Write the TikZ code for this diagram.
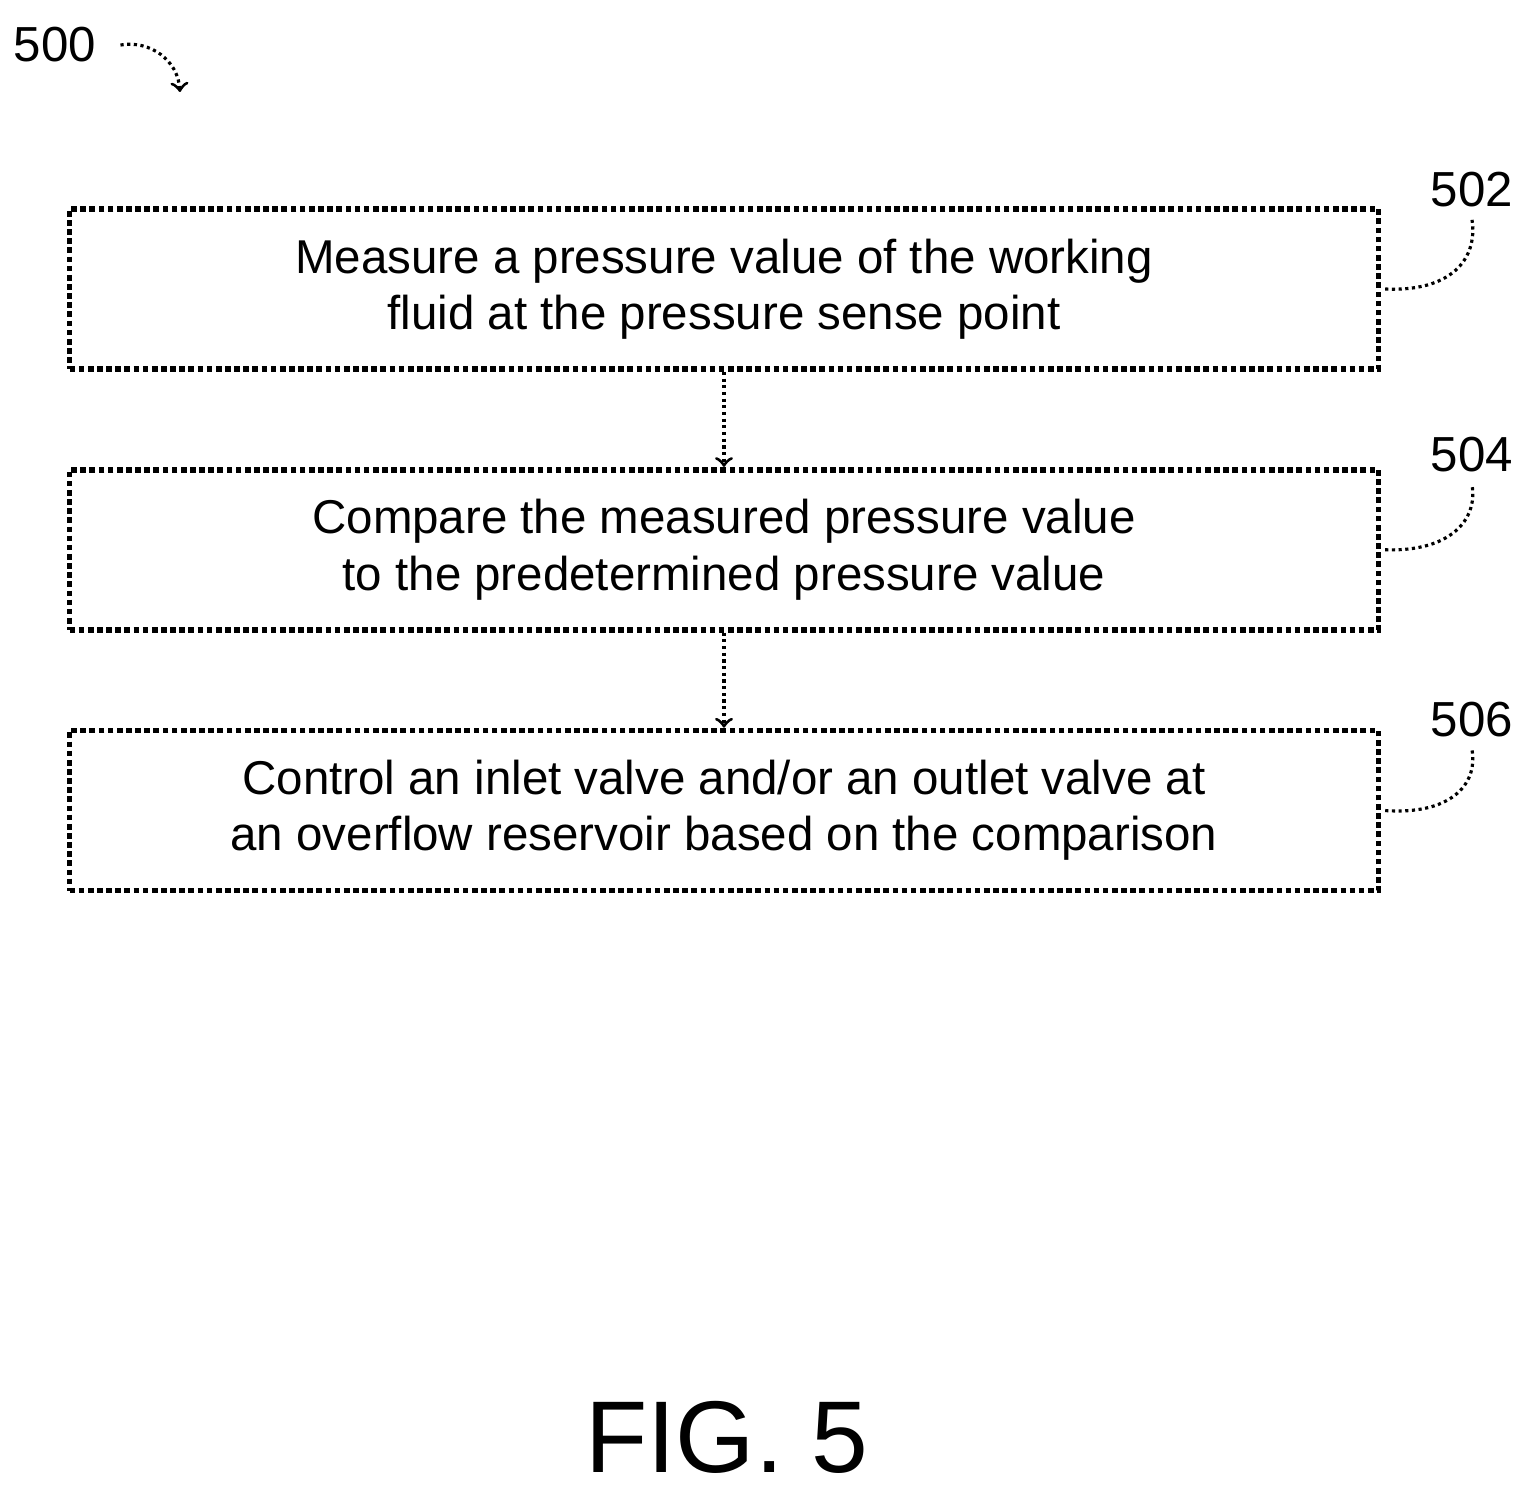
\documentclass[tikz,border=0pt]{standalone}
\usepackage{fontspec}
\setmainfont{Liberation Sans}
\usetikzlibrary{positioning}

\begin{document}
\begin{tikzpicture}[x=0.01cm, y=-0.01cm]
\tikzset{
  flowbox/.style={draw, densely dotted, line width=1.6pt, rectangle, minimum width=13.08cm, minimum height=1.6cm, align=center, font=\fontsize{13.5}{16}\selectfont, inner sep=0pt},
  ref/.style={font=\fontsize{14}{17}\selectfont},
  leader/.style={densely dotted, line width=0.9pt}
}
\useasboundingbox (0,0) rectangle (1530,1488);

\node (measure) [flowbox] at (724,289) {Measure a pressure value of the working\\fluid at the pressure sense point};
\node (compare) [flowbox, below=0.95cm of measure] {Compare the measured pressure value\\to the predetermined pressure value};
\node (control) [flowbox, below=0.95cm of compare] {Control an inlet valve and/or an outlet valve at\\an overflow reservoir based on the comparison};

\draw[->, leader] (measure) -- (compare);
\draw[->, leader] (compare) -- (control);

% reference numerals
\node (n500) [ref] at (55,45) {500};
\node (n502) [ref] at (1472,190) {502};
\node (n504) [ref] at (1472,455) {504};
\node (n506) [ref] at (1472,720) {506};

\draw[->, leader] (n500.east) ++(12,0) .. controls (150,40) and (178,60) .. (180,92);
\draw[leader] (measure.east) ++(4,0) .. controls (1450,292) and (1478,260) .. (n502.south);
\draw[leader] (compare.east) ++(4,0) .. controls (1450,552) and (1478,520) .. (n504.south);
\draw[leader] (control.east) ++(4,0) .. controls (1450,815) and (1478,785) .. (n506.south);

\node (fig) [font=\fontsize{29}{34}\selectfont] at (727,1437) {FIG. 5};
\end{tikzpicture}
\end{document}
